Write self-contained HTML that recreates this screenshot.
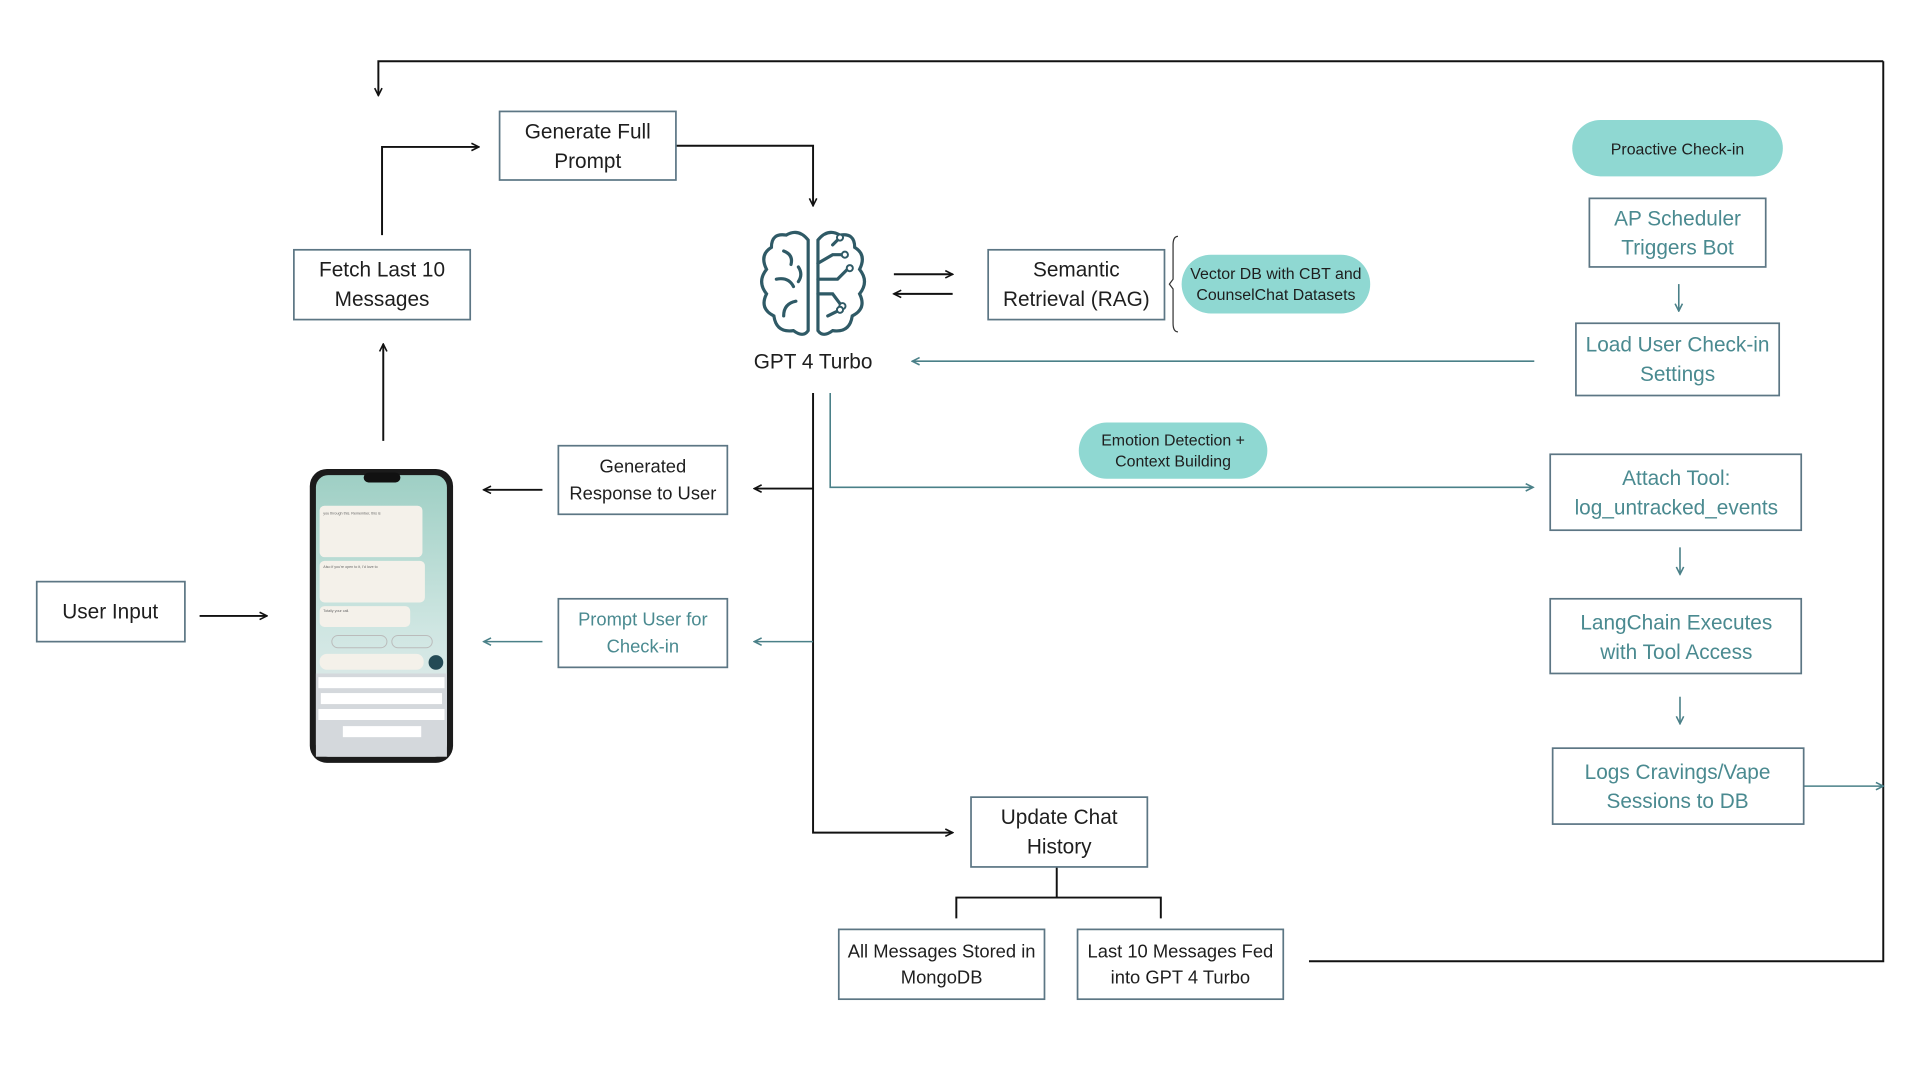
<!DOCTYPE html>
<html><head><meta charset="utf-8"><style>
html,body{margin:0;padding:0;background:#fff;}
svg{display:block}
text{font-family:"Liberation Sans","DejaVu Sans",sans-serif;}
</style></head><body>
<svg width="1920" height="1080" viewBox="0 0 1568 882" xmlns="http://www.w3.org/2000/svg">
<defs>
<marker id="ab" markerWidth="8" markerHeight="8" refX="7" refY="4" orient="auto" markerUnits="userSpaceOnUse"><path d="M1,1 L7,4 L1,7" fill="none" stroke="#111" stroke-width="1.3"/></marker>
<marker id="at" markerWidth="8" markerHeight="8" refX="7" refY="4" orient="auto" markerUnits="userSpaceOnUse"><path d="M1,1 L7,4 L1,7" fill="none" stroke="#4a8088" stroke-width="1.3"/></marker>
<linearGradient id="scr" x1="0" y1="0" x2="0" y2="1"><stop offset="0" stop-color="#9ecfc4"/><stop offset="0.55" stop-color="#cfe6e2"/><stop offset="1" stop-color="#e9ecef"/></linearGradient>
</defs>
<g fill="none" stroke="#111" stroke-width="1.6">
<polyline points="1538,50 309,50 309,78" marker-end="url(#ab)"/>
<polyline points="1538,50 1538,785 1069,785"/>
<polyline points="552,119 664,119 664,168" marker-end="url(#ab)"/>
<polyline points="312,192 312,120 391,120" marker-end="url(#ab)"/>
<line x1="313" y1="360" x2="313" y2="281" marker-end="url(#ab)"/>
<line x1="730" y1="224" x2="778" y2="224" marker-end="url(#ab)"/>
<line x1="778" y1="240" x2="730" y2="240" marker-end="url(#ab)"/>
<polyline points="664,321 664,680 778,680" marker-end="url(#ab)"/>
<line x1="664" y1="399" x2="616" y2="399" marker-end="url(#ab)"/>
<line x1="443" y1="400" x2="395" y2="400" marker-end="url(#ab)"/>
<line x1="163" y1="503" x2="218" y2="503" marker-end="url(#ab)"/>
<polyline points="863,708 863,733"/>
<polyline points="781,750 781,733 948,733 948,750"/>
</g>
<g fill="none" stroke="#4a8088" stroke-width="1.3">
<line x1="1253" y1="295" x2="745" y2="295" marker-end="url(#at)"/>
<polyline points="678,321 678,398 1252,398" marker-end="url(#at)"/>
<line x1="664" y1="524" x2="616" y2="524" marker-end="url(#at)"/>
<line x1="443" y1="524" x2="395" y2="524" marker-end="url(#at)"/>
<line x1="1371" y1="232" x2="1371" y2="254" marker-end="url(#at)"/>
<line x1="1372" y1="447" x2="1372" y2="469" marker-end="url(#at)"/>
<line x1="1372" y1="569" x2="1372" y2="591" marker-end="url(#at)"/>
<line x1="1473" y1="642" x2="1538" y2="642" marker-end="url(#at)"/>
<path d="M962,193 Q958,193 958,200 L958,228 L955,232 L958,236 L958,264 Q958,271 962,271" stroke="#333" stroke-width="1"/>
</g>
<g fill="#fff" stroke="#5c7684" stroke-width="1.4">
<rect x="408" y="91" width="144" height="56"/>
<rect x="240" y="204" width="144" height="57"/>
<rect x="807" y="204" width="144" height="57"/>
<rect x="456" y="364" width="138" height="56"/>
<rect x="456" y="489" width="138" height="56"/>
<rect x="30" y="475" width="121" height="49"/>
<rect x="793" y="651" width="144" height="57"/>
<rect x="685" y="759" width="168" height="57"/>
<rect x="880" y="759" width="168" height="57"/>
<rect x="1298" y="162" width="144" height="56"/>
<rect x="1287" y="264" width="166" height="59"/>
<rect x="1266" y="371" width="205" height="62"/>
<rect x="1266" y="489" width="205" height="61"/>
<rect x="1268" y="611" width="205" height="62"/>
</g>
<g fill="#8fd8d2">
<rect x="1284" y="98" width="172" height="46" rx="23"/>
<rect x="965" y="208" width="154" height="48" rx="24"/>
<rect x="881" y="345" width="154" height="46" rx="23"/>
</g>
<g font-size="17" fill="#1e1e1e" text-anchor="middle">
<text x="480" y="113">Generate Full</text><text x="480" y="137">Prompt</text>
<text x="312" y="226">Fetch Last 10</text><text x="312" y="250">Messages</text>
<text x="879" y="226">Semantic</text><text x="879" y="250">Retrieval (RAG)</text>
<text x="90" y="505">User Input</text>
<text x="865" y="673">Update Chat</text><text x="865" y="697">History</text>
<text x="664" y="301">GPT 4 Turbo</text>
</g>
<g font-size="15" fill="#1e1e1e" text-anchor="middle">
<text x="525" y="386">Generated</text><text x="525" y="408">Response to User</text>
<text x="769" y="782">All Messages Stored in</text><text x="769" y="803">MongoDB</text>
<text x="964" y="782">Last 10 Messages Fed</text><text x="964" y="803">into GPT 4 Turbo</text>
</g>
<g font-size="15" fill="#4a8a90" text-anchor="middle"><text x="525" y="511">Prompt User for</text><text x="525" y="533">Check-in</text></g>
<g font-size="17" fill="#4a8a90" text-anchor="middle">
<text x="1370" y="184">AP Scheduler</text><text x="1370" y="208">Triggers Bot</text>
<text x="1370" y="287">Load User Check-in</text><text x="1370" y="311">Settings</text>
<text x="1369" y="396">Attach Tool:</text><text x="1369" y="420">log_untracked_events</text>
<text x="1369" y="514">LangChain Executes</text><text x="1369" y="538">with Tool Access</text>
<text x="1370" y="636">Logs Cravings/Vape</text><text x="1370" y="660">Sessions to DB</text>
</g>
<g font-size="13" fill="#1e1e1e" text-anchor="middle">
<text x="1370" y="126">Proactive Check-in</text>
<text x="1042" y="228">Vector DB with CBT and</text><text x="1042" y="245">CounselChat Datasets</text>
<text x="958" y="364">Emotion Detection +</text><text x="958" y="381">Context Building</text>
</g>
<g fill="none" stroke="#2f5a66" stroke-width="2.6" stroke-linecap="round">
<path d="M660,196 Q652,186 642,192 Q630,190 630,202 Q620,208 626,220 Q618,230 626,240 Q620,252 632,258 Q634,272 648,270 Q656,276 660,270 Z"/>
<path d="M668,196 Q676,186 686,192 Q698,190 698,202 Q708,208 702,220 Q710,230 702,240 Q708,252 696,258 Q694,272 680,270 Q672,276 668,270 Z"/>
<path d="M640,205 Q648,208 646,216 M634,228 Q644,226 648,234 M650,246 Q640,248 640,258 M652,218 Q656,224 652,230"/>
<path d="M668,215 L680,208 L688,208 M668,228 L684,228 L692,220 M668,240 L680,240 L686,248 M676,258 L684,254 M680,200 L684,196"/>
</g>
<g fill="#fff" stroke="#2f5a66" stroke-width="1.6"><circle cx="690" cy="208" r="2.5"/><circle cx="694" cy="219" r="2.5"/><circle cx="688" cy="250" r="2.5"/><circle cx="686" cy="194" r="2.5"/><circle cx="686" cy="253" r="2.5"/></g>
<rect x="253" y="383" width="117" height="240" rx="14" fill="#1b1b1b"/>
<rect x="258" y="388" width="107" height="230" rx="10" fill="url(#scr)"/>
<rect x="297" y="386" width="30" height="8" rx="4" fill="#111"/>
<g fill="#f4f1ea"><rect x="261" y="413" width="84" height="42" rx="4"/><rect x="261" y="458" width="86" height="34" rx="4"/><rect x="261" y="495" width="74" height="17" rx="4"/><rect x="261" y="534" width="85" height="13" rx="6"/></g>
<g fill="none" stroke="#bbb" stroke-width="0.8"><rect x="271" y="519" width="45" height="10" rx="5"/><rect x="320" y="519" width="33" height="10" rx="5"/></g>
<circle cx="356" cy="541" r="6" fill="#244a55"/>
<rect x="258" y="550" width="107" height="68" fill="#d4d8dc"/>
<g fill="#fff"><rect x="260" y="553" width="103" height="9"/><rect x="262" y="566" width="99" height="9"/><rect x="260" y="579" width="103" height="9"/><rect x="280" y="593" width="64" height="9"/></g>
<g fill="#666" stroke="none" font-size="3"><text x="264" y="420">you through this. Remember, this is</text><text x="264" y="464">Also if you're open to it, I'd love to</text><text x="264" y="500">Totally your call.</text></g>
</svg>
</body></html>
